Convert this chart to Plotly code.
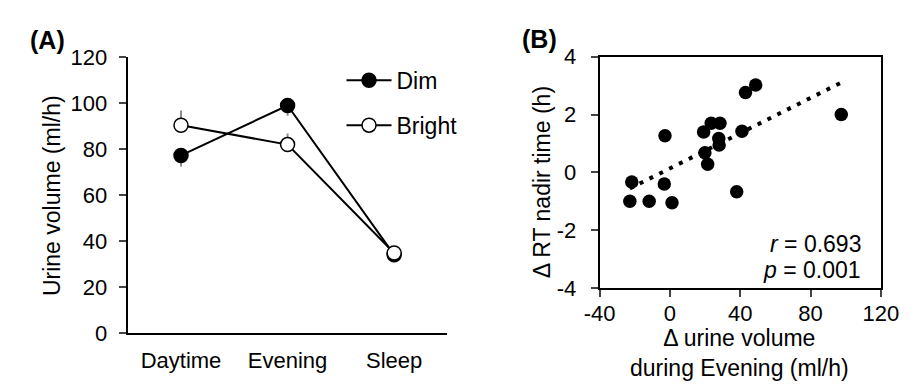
import numpy as np
import plotly.graph_objects as go

# ---------------- data ----------------
periods = ["Daytime", "Evening", "Sleep"]
dim_volume = [77.2, 98.9, 34.0]
dim_err_minus = [4.8, 4.5, 2.0]
bright_volume = [90.3, 81.9, 34.8]
bright_err_plus = [6.4, 4.8, 2.0]

a_yticks = [0, 20, 40, 60, 80, 100, 120]

delta_urine = [-22.8, -21.7, -11.8, -3.2, -2.8, 1.2, 19.2, 19.9, 21.5, 23.5,
               28.5, 27.8, 28.0, 38.0, 41.0, 43.0, 48.8, 97.5]
delta_nadir = [-1.0, -0.33, -1.0, -0.4, 1.27, -1.05, 1.4, 0.68, 0.28, 1.7,
               1.7, 1.17, 0.95, -0.67, 1.42, 2.76, 3.02, 2.0]

b_xticks = [-40, 0, 40, 80, 120]
b_xticklabels = ["-40", "0", "40", "80", "120"]
b_yticks = [-4, -2, 0, 2, 4]
b_yticklabels = ["-4", "-2", "0", "2", "4"]

r_text = "<i>r</i> = 0.693"
p_text = "<i>p</i> = 0.001"

# ---------------- figure ----------------
W, H = 920, 391
FONT = "Arial, Liberation Sans, sans-serif"
FS_TICK = 22
FS_TITLE = 23


def px(x):
    return x / W


def py(y):
    return (H - y) / H


fig = go.Figure()

x_idx = list(range(len(periods)))

fig.add_trace(go.Scatter(
    x=x_idx, y=dim_volume, name="Dim", mode="lines+markers",
    line=dict(color="black", width=2),
    marker=dict(size=14, color="black", line=dict(color="black", width=1.5)),
    error_y=dict(type="data", symmetric=False, array=[0] * 3,
                 arrayminus=dim_err_minus, color="#8c8c8c", thickness=2, width=0),
    legendgroup="dim", xaxis="x", yaxis="y",
))
fig.add_trace(go.Scatter(
    x=x_idx, y=bright_volume, name="Bright", mode="lines+markers",
    line=dict(color="black", width=2),
    marker=dict(size=14, color="white", line=dict(color="black", width=1.5)),
    error_y=dict(type="data", symmetric=False, array=bright_err_plus,
                 arrayminus=[0] * 3, color="#8c8c8c", thickness=2, width=0),
    legendgroup="bright", xaxis="x", yaxis="y",
))

# trend line (least squares of the scatter data)
slope, intercept = np.polyfit(delta_urine, delta_nadir, 1)
tx = [min(delta_urine), max(delta_urine)]
ty = [slope * v + intercept for v in tx]
fig.add_trace(go.Scatter(
    x=tx, y=ty, mode="lines", showlegend=False,
    line=dict(color="black", width=4, dash="4px,7px"),
    xaxis="x2", yaxis="y2",
))
fig.add_trace(go.Scatter(
    x=delta_urine, y=delta_nadir, mode="markers", showlegend=False,
    marker=dict(size=13.5, color="black"),
    xaxis="x2", yaxis="y2",
))

axis_common = dict(showgrid=False, zeroline=False, showline=True,
                   linecolor="black", linewidth=2,
                   tickfont=dict(family=FONT, size=FS_TICK, color="black"))

fig.update_layout(
    width=W, height=H,
    margin=dict(l=0, r=0, t=0, b=0),
    paper_bgcolor="white", plot_bgcolor="white",
    font=dict(family=FONT, size=FS_TICK, color="black"),
    xaxis=dict(domain=[px(116), px(448)], range=[-0.5, 2.5],
               tickvals=x_idx, ticktext=periods, ticks="",
               ticklabelstandoff=7, anchor="y", **axis_common),
    yaxis=dict(domain=[py(343), py(48)], range=[0, 120],
               tickvals=a_yticks, ticks="outside", ticklen=7, tickwidth=2,
               ticklabelstandoff=7, anchor="x", **axis_common),
    xaxis2=dict(domain=[px(606), px(898)], range=[-40, 120],
                tickvals=b_xticks, ticktext=b_xticklabels,
                ticks="outside", ticklen=7, tickwidth=2, mirror=True,
                ticklabelstandoff=-3, anchor="y2", **axis_common),
    yaxis2=dict(domain=[py(295), py(47.7)], range=[-4, 4],
                tickvals=b_yticks, ticktext=b_yticklabels,
                ticks="outside", ticklen=7, tickwidth=2, mirror=True,
                ticklabelstandoff=10, anchor="x2", **axis_common),
    legend=dict(x=px(338), y=py(50), xanchor="left", yanchor="top",
                bgcolor="rgba(0,0,0,0)", traceorder="grouped", itemwidth=45,
                tracegroupgap=12, font=dict(family=FONT, size=FS_TITLE)),
    showlegend=True,
)

annots = [
    dict(text="<b>(A)</b>", x=px(12), y=py(30), xanchor="left", yanchor="middle", size=25),
    dict(text="<b>(B)</b>", x=px(523), y=py(29), xanchor="left", yanchor="middle", size=25),
    dict(text="Urine volume (ml/h)", x=px(38), y=py(196), xanchor="center",
         yanchor="middle", textangle=-90, size=FS_TITLE),
    dict(text="Δ RT nadir time (h)", x=px(547), y=py(182), xanchor="center",
         yanchor="middle", textangle=-90, size=FS_TITLE),
    dict(text="Δ urine volume<br>during Evening (ml/h)", x=px(751), y=py(364),
         xanchor="center", yanchor="middle", size=FS_TITLE),
    dict(text=r_text, x=px(880), y=py(248), xanchor="right", yanchor="middle", size=FS_TITLE),
    dict(text=p_text, x=px(880), y=py(276), xanchor="right", yanchor="middle", size=FS_TITLE),
]
for a in annots:
    fig.add_annotation(text=a["text"], x=a["x"], y=a["y"], xref="paper", yref="paper",
                       xanchor=a["xanchor"], yanchor=a["yanchor"], showarrow=False,
                       textangle=a.get("textangle", 0),
                       font=dict(family=FONT, size=a["size"], color="black"))

fig.write_html("out.html")
